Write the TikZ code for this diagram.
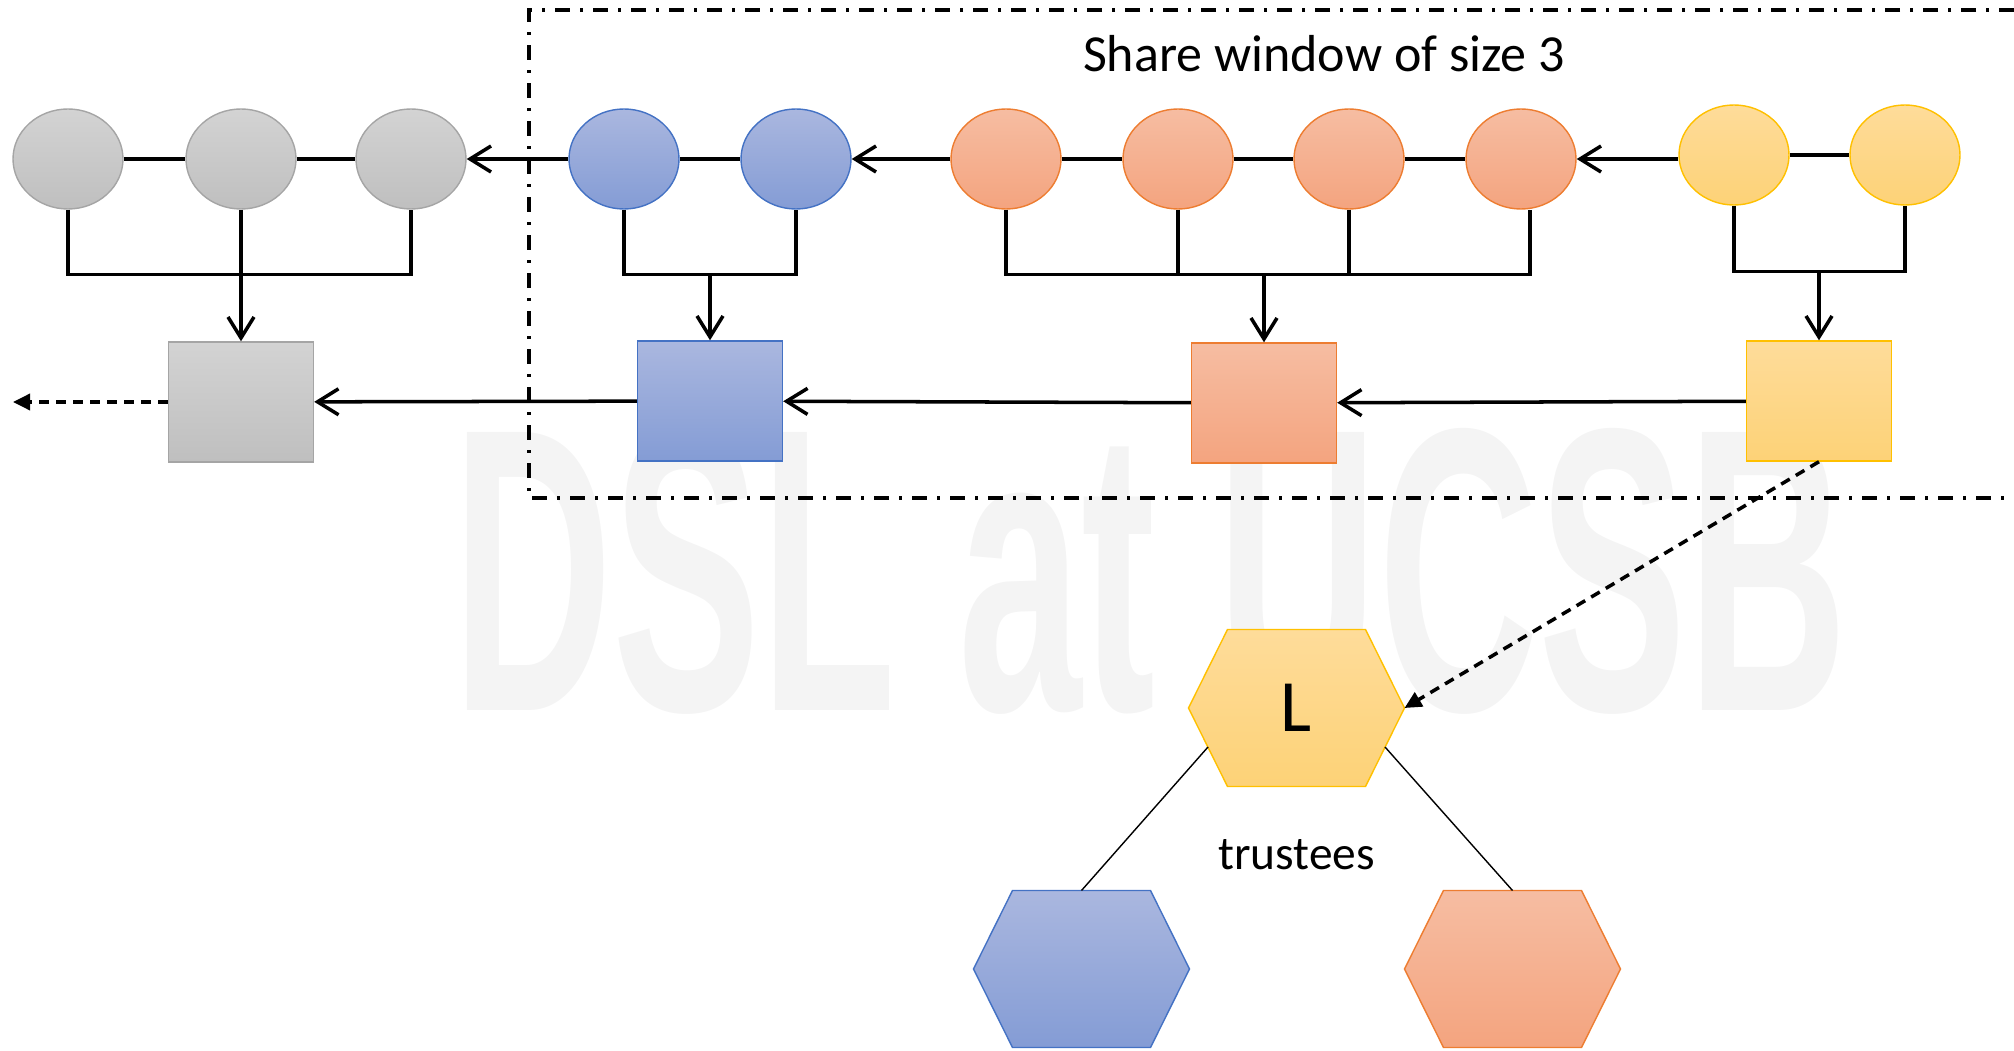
\documentclass[tikz,border=0pt]{standalone}
\usepackage{fontspec}
\setmainfont{Carlito}
\newfontfamily\wmfont{Liberation Sans}
\usetikzlibrary{shapes.geometric, arrows.meta}

\definecolor{grayline}{HTML}{A5A5A5}
\definecolor{graytop}{HTML}{D3D3D3}
\definecolor{graybot}{HTML}{BFBFBF}
\definecolor{blueline}{HTML}{4472C4}
\definecolor{bluetop}{HTML}{AAB7DF}
\definecolor{bluebot}{HTML}{849CD5}
\definecolor{orangeline}{HTML}{ED7D31}
\definecolor{orangetop}{HTML}{F6BDA2}
\definecolor{orangebot}{HTML}{F4A47F}
\definecolor{yellowline}{HTML}{FFC000}
\definecolor{yellowtop}{HTML}{FEDC9A}
\definecolor{yellowbot}{HTML}{FDD277}

\tikzset{
  share/.style={ellipse, minimum width=1.10cm, minimum height=1.00cm, inner sep=0pt, line width=0.4pt},
  block/.style={rectangle, minimum width=1.45cm, minimum height=1.20cm, inner sep=0pt, line width=0.4pt},
  grayfill/.style={draw=grayline, top color=graytop, bottom color=graybot},
  bluefill/.style={draw=blueline, top color=bluetop, bottom color=bluebot},
  orangefill/.style={draw=orangeline, top color=orangetop, bottom color=orangebot},
  yellowfill/.style={draw=yellowline, top color=yellowtop, bottom color=yellowbot},
  wire/.style={line width=1pt},
  dashwire/.style={line width=1pt, dash pattern=on 0.10cm off 0.07cm, -{Triangle[length=1.7mm,width=1.6mm]}},
  window/.style={line width=1pt, dash pattern=on 0.15cm off 0.10cm on 0.03cm off 0.10cm},
  hexa/.pic={
    \path[line width=0.4pt, #1] (-1.08,0) -- (-0.69,0.785) -- (0.69,0.785) -- (1.08,0)
      -- (0.69,-0.785) -- (-0.69,-0.785) -- cycle;
    \coordinate (-c) at (0,0);
    \coordinate (-e) at (1.08,0);
    \coordinate (-n) at (0,0.785);
    \coordinate (-sw) at (-0.885,-0.39);
    \coordinate (-se) at (0.885,-0.39);
  }
}

\begin{document}
\begin{tikzpicture}[>={Straight Barb[length=2.1mm,width=2.6mm]}]
			\useasboundingbox (0,0) rectangle (20.14,-10.51);
			
			% Watermark behind everything
			\node[text=gray!9, font=\wmfont\bfseries\fontsize{115}{120}\selectfont] (wm) at (11.50,-5.71) {\scalebox{0.55}[1]{DSL at UCSB}};
			
			% Share window
			\draw[window] (20.14,-0.10) -| (5.29,-4.98) -- (20.14,-4.98);
			\node[font=\fontsize{14.8}{17}\selectfont] (title) at (13.24,-0.54) {Share window of size 3};
			
			% Shares of each block
			\node[share, grayfill] (g1) at (0.68,-1.59) {};
			\node[share, grayfill] (g2) at (2.41,-1.59) {};
			\node[share, grayfill] (g3) at (4.11,-1.59) {};
			\node[share, bluefill] (b1) at (6.24,-1.59) {};
			\node[share, bluefill] (b2) at (7.96,-1.59) {};
			\node[share, orangefill] (o1) at (10.06,-1.59) {};
			\node[share, orangefill] (o2) at (11.78,-1.59) {};
			\node[share, orangefill] (o3) at (13.49,-1.59) {};
			\node[share, orangefill] (o4) at (15.21,-1.59) {};
			\node[share, yellowfill] (y1) at (17.34,-1.55) {};
			\node[share, yellowfill] (y2) at (19.05,-1.55) {};
			
			% Blocks
			\node[block, grayfill] (gb) at (2.41,-4.02) {};
			\node[block, bluefill] (bb) at (7.10,-4.01) {};
			\node[block, orangefill] (ob) at (12.64,-4.03) {};
			\node[block, yellowfill] (yb) at (18.19,-4.01) {};
			
			% Links between shares
			\draw[wire] (g1) -- (g2) (g2) -- (g3);
			\draw[wire] (b1) -- (b2);
			\draw[wire] (o1) -- (o2) (o2) -- (o3) (o3) -- (o4);
			\draw[wire] (y1) -- (y2);
			\draw[wire, ->] (b1) -- (g3);
			\draw[wire, ->] (o1) -- (b2);
			\draw[wire, ->] (o4.east -| y1.west) -- (o4.east);
			
			% Shares gathered into blocks
			\draw[wire] (g1.south) -- ++(0,-0.65) -| (g3.south);
			\draw[wire, ->] (g2) -- (gb);
			\draw[wire] (b1.south) -- ++(0,-0.65) -| (b2.south);
			\draw[wire, <-] (bb.north) -- ++(0,0.67);
			\draw[wire] (o1.south) -- ++(0,-0.65) -| ([xshift=0.09cm]o4.south);
			\draw[wire] (o2.south) -- ++(0,-0.65);
			\draw[wire] (o3.south) -- ++(0,-0.65);
			\draw[wire, <-] (ob.north) -- ++(0,0.69);
			\draw[wire] (y1.south) -- ++(0,-0.66) -| (y2.south);
			\draw[wire, <-] (yb.north) -- ++(0,0.70);
			
			% Chain of blocks
			\coordinate (out) at (0.13,-4.02);
			\draw[wire, ->] (bb) -- (gb);
			\draw[wire, ->] (ob) -- (bb);
			\draw[wire, ->] (yb) -- (ob);
			\draw[dashwire] (gb) -- (out);
			
			% Leader and trustees
			\pic (lead) at (12.965,-7.08) {hexa=yellowfill};
			\pic (bt) at (10.815,-9.69) {hexa=bluefill};
			\pic (ot) at (15.125,-9.69) {hexa=orangefill};
			\node[font=\fontsize{21}{25}\selectfont] (ltext) at (lead-c) {L};
			\node[font=\fontsize{13.5}{16}\selectfont] (trust) at (12.965,-8.55) {trustees};
			\draw[line width=0.4pt] (lead-sw) -- (bt-n);
			\draw[line width=0.4pt] (lead-se) -- (ot-n);
			\draw[dashwire] (yb.south) -- (lead-e);
			
		\end{tikzpicture}
\end{document}
